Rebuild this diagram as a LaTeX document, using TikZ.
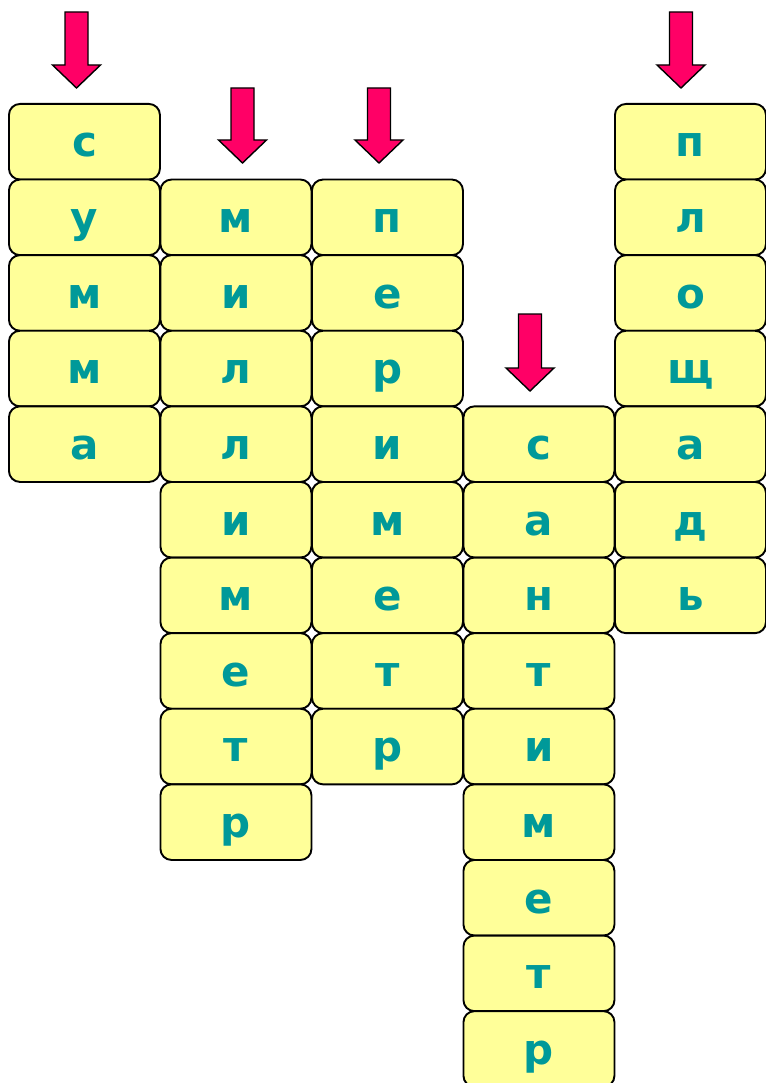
\documentclass[tikz,border=0pt]{standalone}
\usepackage{fontspec}
\usetikzlibrary{calc}
\setmainfont{DejaVu Sans}
\newfontfamily\cellfont{DejaVu Sans}
\definecolor{cellfill}{HTML}{FFFF99}
\definecolor{letter}{HTML}{009999}
\definecolor{arrowred}{HTML}{FF0066}
\begin{document}
\begin{tikzpicture}[x=1pt,y=-1pt,
  cell/.style={draw=black,line width=1.9pt,fill=cellfill,rounded corners=11pt,
    minimum width=151pt,minimum height=75.6pt,inner sep=0pt,anchor=north west},
  lettertext/.style={anchor=base,inner sep=0pt,text=letter,
    font=\cellfont\fontsize{42}{42}\bfseries\selectfont},
  downarrow/.style={draw=black,line width=1.4pt,fill=arrowred,line join=miter}]
\useasboundingbox[fill=white] (0,0) rectangle (765,1083);
\foreach \c/\r/\lst in {0/0/{с,у,м,м,а},1/1/{м,и,л,л,и,м,е,т,р},2/1/{п,е,р,и,м,е,т,р},3/4/{с,а,н,т,и,м,е,т,р},4/0/{п,л,о,щ,а,д,ь}}{
  \foreach \ch [count=\i from 0] in \lst {
    \pgfmathsetmacro{\xx}{8+151.5*\c}
    \pgfmathsetmacro{\yy}{103+75.6*(\r+\i)}
    \node[cell] (c\c-\i) at (\xx,\yy) {};
    \node[lettertext] (t\c-\i) at ($(c\c-\i.north)+(0,54)$) {\ch};
  }
}
% arrows: center x, top y, tip y
\foreach \n/\ax/\ty/\tip in {a/76.5/12/88,b/242.5/88/163,c/379/88/163,d/530/314/391,e/681/12/88}{
  \coordinate (arr\n) at (\ax,\tip);
  \draw[downarrow] (\ax-11.5,\ty) -- (\ax+11.5,\ty) -- (\ax+11.5,\tip-23) -- (\ax+24,\tip-23)
    -- (arr\n) -- (\ax-24,\tip-23) -- (\ax-11.5,\tip-23) -- cycle;
}
\end{tikzpicture}
\end{document}
